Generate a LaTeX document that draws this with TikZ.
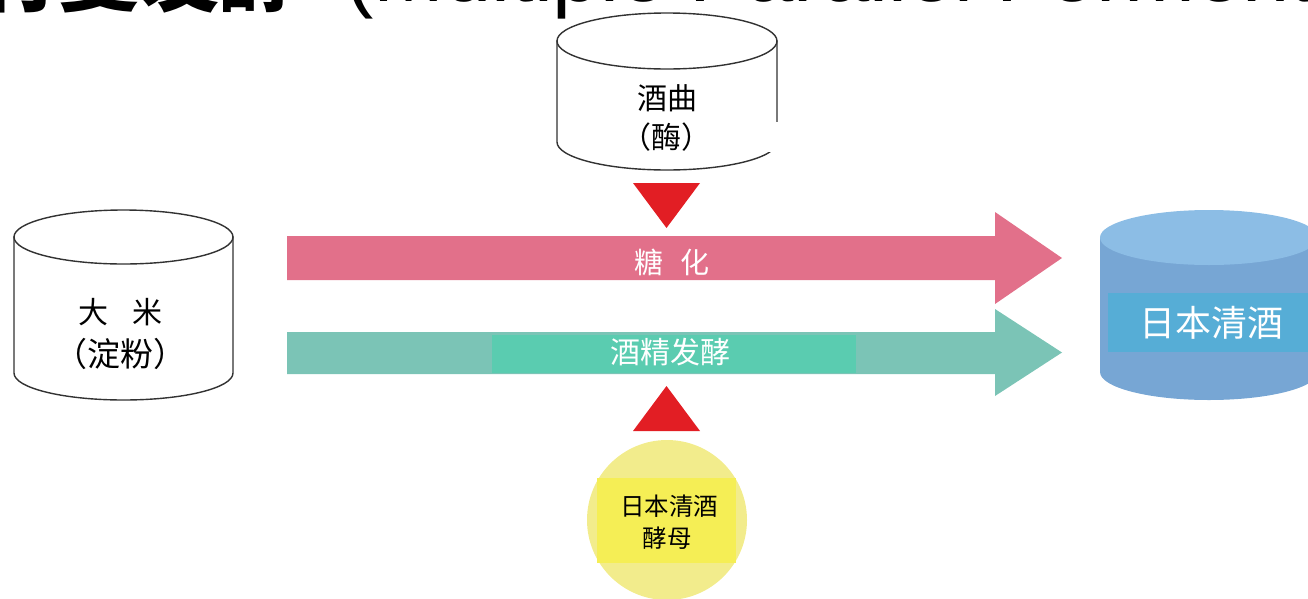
\documentclass[tikz,border=0pt]{standalone}
\usepackage{fontspec}
\newfontfamily\cjk{Noto Sans CJK SC}
\newfontfamily\lat{Liberation Sans}
\definecolor{pinkA}{RGB}{226,112,138}
\definecolor{tealA}{RGB}{123,196,182}
\definecolor{tealB}{RGB}{90,204,176}
\definecolor{redT}{RGB}{226,30,36}
\definecolor{yellowC}{RGB}{242,236,140}
\definecolor{yellowR}{RGB}{245,238,85}
\definecolor{blueTop}{RGB}{140,189,229}
\definecolor{blueBody}{RGB}{119,166,212}
\definecolor{blueBand}{RGB}{86,173,214}
\definecolor{lineC}{RGB}{50,50,50}
\begin{document}
\begin{tikzpicture}[x=1pt,y=-1pt,
  outl/.style={draw=lineC, line width=1.4pt, fill=white},
  lbl/.style={inner sep=0pt, align=center},
  cjkt/.style={lbl, font=\cjk\fontsize{#1}{#1}\selectfont},
  tri/.style={fill=redT}]
\useasboundingbox (0,0) rectangle (1308,598);
\clip (0,0) rectangle (1308,598);

% title (cropped at the top)
\node[anchor=base east, inner sep=0pt, font=\cjk\bfseries\fontsize{80}{90}\selectfont] (tcjk) at (300,5) {并行复发酵};
\node[anchor=base west, inner sep=0pt, font=\lat\fontsize{85}{95}\selectfont] (tlat) at (345,1) {(Multiple Parallel Fermentation)};

% top cylinder: koji
\path[outl] (557,41) -- (557,142) arc[start angle=180,end angle=0,x radius=110,y radius=28] -- (777,41) -- cycle;
\draw[outl] (667,41) ellipse[x radius=110,y radius=28];
\fill[white] (751,122) rectangle (780,152);
\node[cjkt=30] (qu) at (667,98) {酒曲};
\node[cjkt=30] (mei) at (666,137) {（酶）};

% left cylinder: rice
\path[outl] (14,237) -- (14,373) arc[start angle=180,end angle=0,x radius=109.5,y radius=27] -- (233,237) -- cycle;
\draw[outl] (123.5,237) ellipse[x radius=109.5,y radius=27];
\node[cjkt=30] (rice) at (120,312) {大\hspace{24pt}米};
\node[cjkt=33] (starch) at (120,354) {（淀粉）};

% right cylinder: sake
\fill[blueBody] (1100,237) -- (1100,372) arc[start angle=180,end angle=0,x radius=109,y radius=28] -- (1318,237) -- cycle;
\fill[blueTop] (1209,237.5) ellipse[x radius=109,y radius=27.5];
\fill[blueBand] (1108,293) rectangle (1310,352);
\node[cjkt=36, text=white] (sake) at (1211,323) {日本清酒};

% process arrows
\fill[pinkA] (287,236) -- (995,236) -- (995,212) -- (1062,258) -- (995,304) -- (995,280) -- (287,280) -- cycle;
\node[cjkt=29, text=white] (sac) at (672,262) {糖\hspace{17pt}化};
\fill[tealA] (287,332) -- (995,332) -- (995,309) -- (1062,352.5) -- (995,396) -- (995,374) -- (287,374) -- cycle;
\fill[tealB] (492,335) rectangle (856,373);
\node[cjkt=30, text=white] (ferm) at (670,352) {酒精发酵};

% red triangles
\fill[tri] (633,183) -- (700,183) -- (666.5,228) -- cycle;
\fill[tri] (666.5,386) -- (700,431) -- (633,431) -- cycle;

% yeast
\fill[yellowC] (667,520) circle[radius=80];
\fill[yellowR] (597,478) rectangle (736,563);
\node[cjkt=24.5] (yeast1) at (669,506) {日本清酒};
\node[cjkt=24.5] (yeast2) at (667,538) {酵母};
\end{tikzpicture}
\end{document}
